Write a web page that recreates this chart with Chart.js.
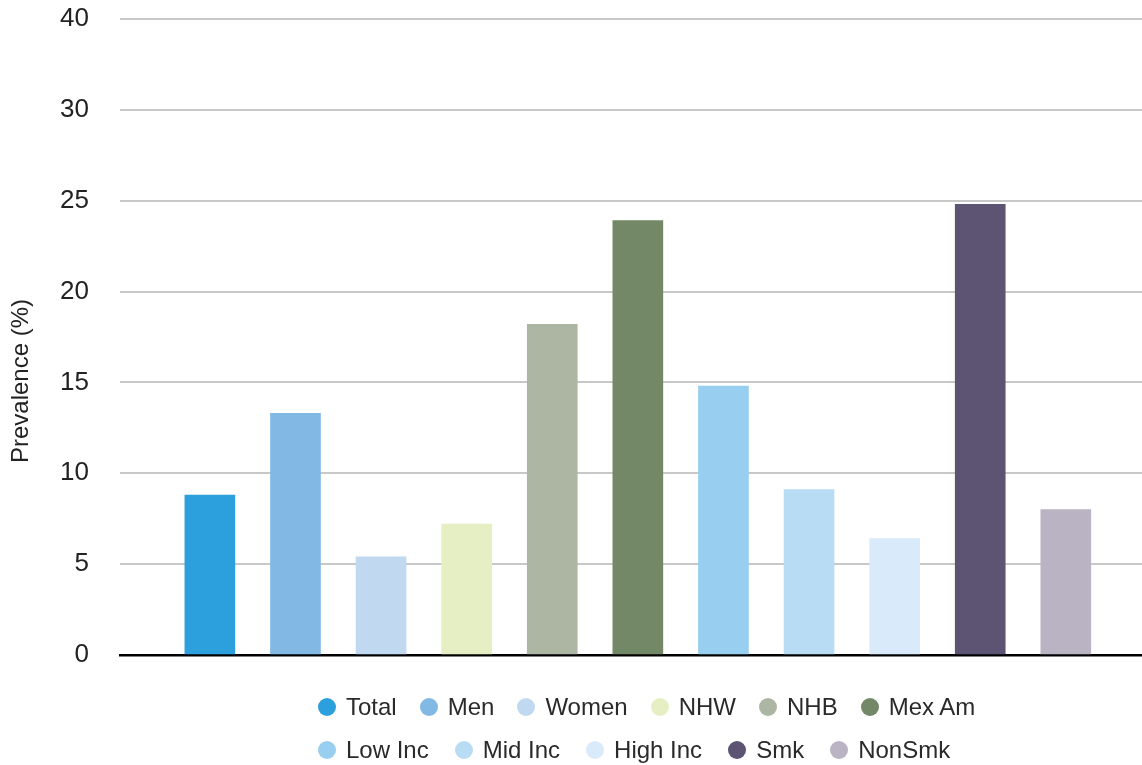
<!DOCTYPE html>
<html>
<head>
<meta charset="utf-8">
<script src="https://cdn.jsdelivr.net/npm/chart.js@4/dist/chart.umd.min.js"></script>
<style>
  html, body { margin: 0; padding: 0; background: #ffffff; }
  #wrap { width: 1142px; height: 765px; position: relative; overflow: hidden; }
  #legend { position: absolute; left: 318px; top: 685px; font-family: 'Liberation Sans', Arial, sans-serif; font-size: 24px; color: #2a2a2a; }
  .row { display: flex; align-items: center; height: 43px; white-space: nowrap; }
  .item { display: flex; align-items: center; margin-right: 23px; }
  .row2 .item { margin-right: 26px; }
  .dot { width: 18px; height: 18px; border-radius: 50%; margin-right: 10px; flex: none; }
</style>
</head>
<body>
<div id="wrap">
  <canvas id="c" width="1142" height="765"></canvas>
  <div id="legend"></div>
</div>
<script>
const categories = ['Total', 'Men', 'Women', 'NHW', 'NHB', 'Mex Am', 'Low Inc', 'Mid Inc', 'High Inc', 'Smk', 'NonSmk'];
const prevalence = [8.8, 13.3, 5.4, 7.2, 18.2, 23.9, 14.8, 9.1, 6.4, 24.8, 8.0];
const barColors = ['#2ca0dc', '#82b8e4', '#c0d8f0', '#e6efc4', '#adb5a3', '#728866', '#98cef0', '#b9dcf5', '#d9eafa', '#5d5373', '#bab3c3'];
const yTickLabels = ['0', '5', '10', '15', '20', '25', '30', '40'];
const yAxisTitle = 'Prevalence (%)';
const legendRows = [6, 5];

Chart.defaults.font.family = "'Liberation Sans', Arial, sans-serif";
Chart.defaults.color = '#222222';

// Draws the y-axis title slightly below the middle of the plot, as in the reference
const yTitlePlugin = {
  id: 'yTitle',
  afterDraw(chart) {
    const { ctx, chartArea } = chart;
    ctx.save();
    ctx.font = "24px 'Liberation Sans', Arial, sans-serif";
    ctx.fillStyle = '#222222';
    ctx.textAlign = 'center';
    ctx.textBaseline = 'middle';
    ctx.translate(21, (chartArea.top + chartArea.bottom) / 2 + 44);
    ctx.rotate(-Math.PI / 2);
    ctx.fillText(yAxisTitle, 0, 0);
    ctx.restore();
  }
};

const chart = new Chart(document.getElementById('c'), {
  type: 'bar',
  data: {
    datasets: [{
      label: yAxisTitle,
      data: prevalence.map((v, i) => ({ x: i, y: v })),
      backgroundColor: barColors,
      borderWidth: 0,
      barThickness: 50
    }]
  },
  options: {
    responsive: false,
    animation: false,
    layout: { padding: { top: 19, right: 0, left: 0, bottom: 110 } },
    plugins: {
      tooltip: { enabled: false },
      legend: { display: false }
    },
    scales: {
      x: {
        type: 'linear',
        offset: false,
        min: -1.05,
        max: 10.89,
        ticks: { display: false },
        grid: { display: false },
        border: { display: true, color: '#000000', width: 2.5 },
        afterFit: (s) => { s.height = 0; }
      },
      y: {
        min: 0,
        max: 35,
        ticks: {
          stepSize: 5,
          padding: 0,
          font: { size: 26 },
          color: '#222222',
          callback: (v, i) => yTickLabels[i]
        },
        grid: { color: '#c8c8c8', lineWidth: 2, drawTicks: true, tickLength: 31, tickColor: 'rgba(0,0,0,0)' },
        border: { display: false },
        title: { display: false },
        afterFit: (s) => { s.width = 120; }
      }
    }
  },
  plugins: [yTitlePlugin]
});

// HTML legend built from the same arrays
const legendEl = document.getElementById('legend');
let k = 0;
legendRows.forEach((n, r) => {
  const row = document.createElement('div');
  row.className = 'row row' + (r + 1);
  for (let j = 0; j < n; j++, k++) {
    const item = document.createElement('div');
    item.className = 'item';
    const dot = document.createElement('span');
    dot.className = 'dot';
    dot.style.background = barColors[k];
    const txt = document.createElement('span');
    txt.textContent = categories[k];
    item.appendChild(dot);
    item.appendChild(txt);
    row.appendChild(item);
  }
  legendEl.appendChild(row);
});
</script>
</body>
</html>
